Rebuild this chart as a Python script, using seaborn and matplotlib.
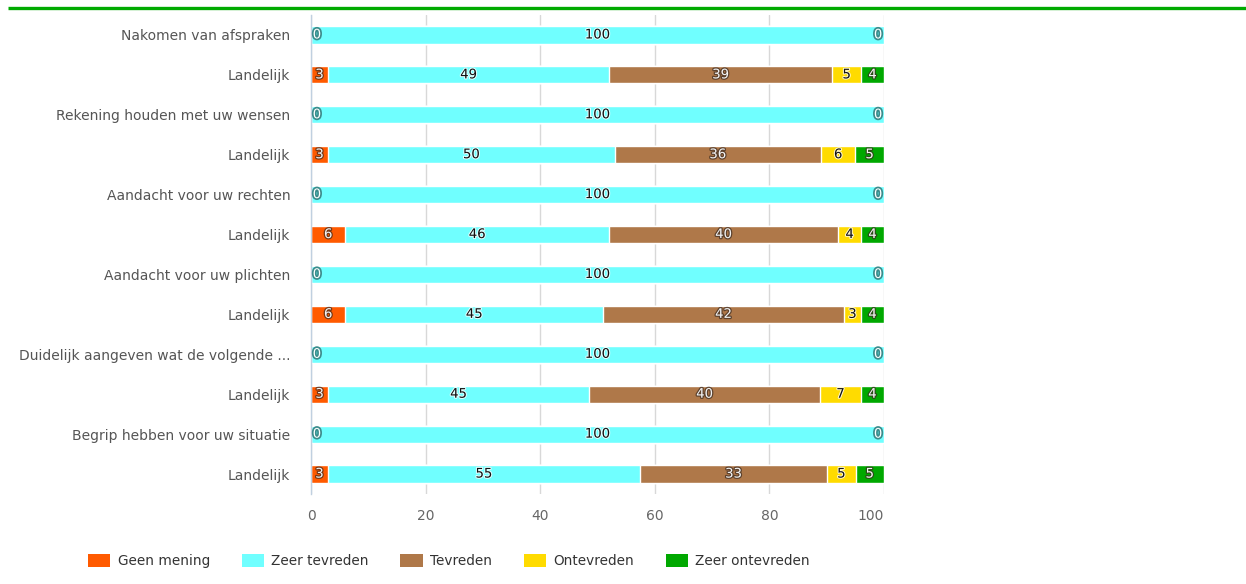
import numpy as np
import pandas as pd
import matplotlib
matplotlib.use("Agg")
import matplotlib.pyplot as plt
import matplotlib.patheffects as pe
from matplotlib.patches import Patch
from matplotlib.lines import Line2D
import seaborn as sns

# ---------------- data ----------------
categories = ["Nakomen van afspraken", "Landelijk",
              "Rekening houden met uw wensen", "Landelijk",
              "Aandacht voor uw rechten", "Landelijk",
              "Aandacht voor uw plichten", "Landelijk",
              "Duidelijk aangeven wat de volgende ...", "Landelijk",
              "Begrip hebben voor uw situatie", "Landelijk"]
series_names = ["Geen mening", "Zeer tevreden", "Tevreden", "Ontevreden", "Zeer ontevreden"]
geen_mening = [0, 3, 0, 3, 0, 6, 0, 6, 0, 3, 0, 3]
zeer_tevreden = [100, 49, 100, 50, 100, 46, 100, 45, 100, 45, 100, 55]
tevreden = [0, 39, 0, 36, 0, 40, 0, 42, 0, 40, 0, 33]
ontevreden = [0, 5, 0, 6, 0, 4, 0, 3, 0, 7, 0, 5]
zeer_ontevreden = [0, 4, 0, 5, 0, 4, 0, 4, 0, 4, 0, 5]
x_ticks = [0, 20, 40, 60, 80, 100]

colors = ["#FF5A00", "#70FFFF", "#AF7849", "#FFDB00", "#00A800"]
light_text = [True, False, True, False, True]

# ---------------- prep ----------------
raw = np.array([geen_mening, zeer_tevreden, tevreden, ontevreden, zeer_ontevreden], dtype=float)
pct = raw / raw.sum(axis=0) * 100.0
cum = np.cumsum(pct, axis=0)
row_keys = [f"r{i}" for i in range(len(categories))]
df = pd.DataFrame({"row": row_keys})
for j, name in enumerate(series_names):
    df[f"cum_{j}"] = cum[j]

W, H = 1246, 584
fig = plt.figure(figsize=(W / 100, H / 100), dpi=100)
sns.set_style("white")
plt.rcParams["font.family"] = ["DejaVu Sans"]
ax = fig.add_axes([311 / W, 1 - 494 / H, 573 / W, 479 / H])

for j in reversed(range(len(series_names))):
    sns.barplot(data=df, x=f"cum_{j}", y="row", order=row_keys, orient="h",
                color=colors[j], saturation=1, width=0.43, errorbar=None,
                edgecolor="white", linewidth=1, ax=ax, zorder=3)

ax.set_xlim(0, 100)
ax.set_ylim(len(categories) - 0.5, -0.5)
ax.set_xlabel("")
ax.set_ylabel("")

# grid & spines
ax.set_xticks(x_ticks)
ax.xaxis.grid(True, color="#D8D8D8", linewidth=1, zorder=0)
ax.yaxis.grid(False)
ax.set_axisbelow(True)
for s in ["top", "right", "bottom"]:
    ax.spines[s].set_visible(False)
ax.spines["left"].set_color("#C0D0E0")
ax.spines["left"].set_linewidth(1)
ax.spines["left"].set_zorder(5)

ax.set_yticks(range(len(categories)))
ax.set_yticklabels(categories, fontsize=10, color="#555555")
ax.set_yticks(np.arange(-0.5, len(categories), 1), minor=True)
ax.tick_params(axis="y", which="major", length=0, pad=15)
ax.tick_params(axis="y", which="minor", length=9, color="#C0D0E0", width=1)
ax.set_xticklabels([str(t) for t in x_ticks], fontsize=10, color="#666666")
ax.tick_params(axis="x", length=0, pad=11)
ax.get_xticklabels()[-1].set_horizontalalignment("right")

# data labels
for i in range(len(categories)):
    used_edges = set()
    for j in range(len(series_names)):
        v = raw[j, i]
        left = cum[j, i] - pct[j, i]
        txt = f"{int(v)}"
        if v == 0:
            if left < 0.5:
                key, xpos, ha = "L", 0.3, "left"
            else:
                key, xpos, ha = "R", 99.7, "right"
            if key in used_edges:
                continue
            used_edges.add(key)
            ax.text(xpos, i, txt, ha=ha, va="center", fontsize=9.5, color="white", zorder=6,
                    path_effects=[pe.withStroke(linewidth=2.5, foreground="#3C8C8C")])
            continue
        xpos = left + pct[j, i] / 2
        if light_text[j]:
            ax.text(xpos, i, txt, ha="center", va="center", fontsize=9.5, color="#F4F4F4", zorder=6,
                    path_effects=[pe.withStroke(linewidth=1.8, foreground="#3A2A20", alpha=0.7)])
        else:
            ax.text(xpos, i, txt, ha="center", va="center", fontsize=9.5, color="#111111", zorder=6,
                    path_effects=[pe.withStroke(linewidth=1.5, foreground="white", alpha=0.8)])

# legend
handles = [Patch(facecolor=c, edgecolor="none", label=n) for c, n in zip(colors, series_names)]
fig.legend(handles=handles, loc="center left", bbox_to_anchor=(88 / W, 1 - 561 / H),
           ncol=5, frameon=False, fontsize=9.8, labelcolor="#333333",
           handlelength=1.65, handleheight=1.15, handletextpad=0.55, columnspacing=2.3,
           borderaxespad=0, borderpad=0)

# top green rule
fig.add_artist(Line2D([8 / W, 1.0], [1 - 7.5 / H, 1 - 7.5 / H], transform=fig.transFigure,
                      color="#00AA00", linewidth=2.4, solid_capstyle="butt"))

fig.savefig("out.png", dpi=100)
